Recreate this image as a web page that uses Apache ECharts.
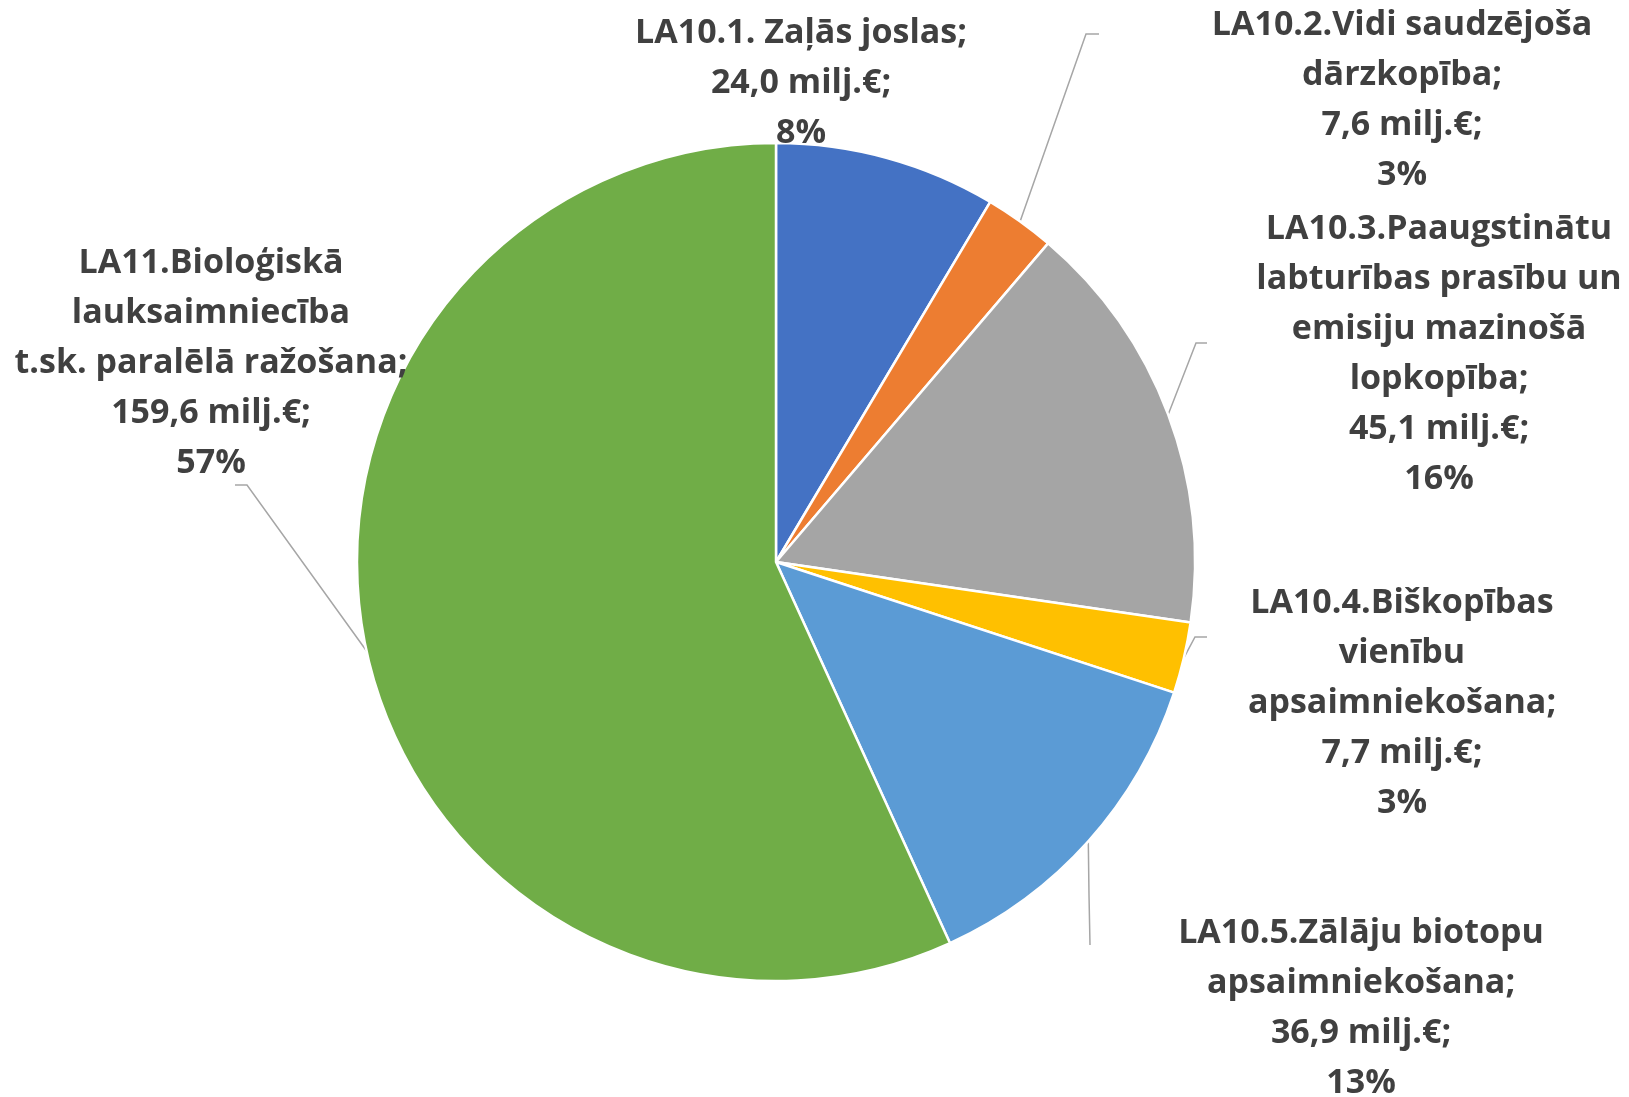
<!DOCTYPE html>
<html>
<head>
<meta charset="utf-8">
<script src="https://cdn.jsdelivr.net/npm/echarts@6/dist/echarts.min.js"></script>
<style>
  html, body { margin: 0; padding: 0; background: #fff; }
  #chart { width: 1629px; height: 1097px; }
</style>
</head>
<body>
<div id="chart"></div>
<script>
// Data
const names = [
    'LA10.1. Zaļās joslas',
    'LA10.2.Vidi saudzējoša\ndārzkopība',
    'LA10.3.Paaugstinātu\nlabturības prasību un\nemisiju mazinošā\nlopkopība',
    'LA10.4.Biškopības\nvienību\napsaimniekošana',
    'LA10.5.Zālāju biotopu\napsaimniekošana',
    'LA11.Bioloģiskā\nlauksaimniecība\nt.sk. paralēlā ražošana'
];
const values = [24.0, 7.6, 45.1, 7.7, 36.9, 159.6];
const valueLabels = ['24,0', '7,6', '45,1', '7,7', '36,9', '159,6'];
const percentLabels = ['8%', '3%', '16%', '3%', '13%', '57%'];
const colors = ['#4472C4', '#ED7D31', '#A5A5A5', '#FFC000', '#5B9BD5', '#70AD47'];

// label placement (text block centre, leader line bend + end)
const labelPlaces = [
    { x: 801, y: 83, line: null },
    { x: 1402, y: 100, line: [[1086, 34], [1099, 34]] },
    { x: 1439, y: 354, line: [[1196, 343], [1207, 343]] },
    { x: 1402, y: 703, line: [[1195, 637], [1207, 637]] },
    { x: 1361, y: 1008, line: [[1089, 895], [1090, 945]] },
    { x: 211, y: 363, line: [[247, 485], [235, 485]] }
];

const chart = echarts.init(document.getElementById('chart'));

const data = names.map(function (name, i) {
    return {
        name: name,
        value: values[i],
        itemStyle: { color: colors[i] },
        labelLine: { show: labelPlaces[i].line !== null }
    };
});

const option = {
    animation: false,
    series: [
        {
            type: 'pie',
            center: [776, 562],
            radius: 419,
            startAngle: 90,
            clockwise: true,
            itemStyle: {
                borderColor: '#fff',
                borderWidth: 2.5
            },
            label: {
                show: true,
                position: 'outside',
                overflow: 'none',
                fontFamily: 'Open Sans',
                fontWeight: 'bold',
                fontSize: 34,
                lineHeight: 50,
                color: '#404040',
                formatter: function (p) {
                    const i = p.dataIndex;
                    return p.name + ';\n' + valueLabels[i] + ' milj.€;\n' + percentLabels[i];
                }
            },
            labelLine: {
                show: true,
                lineStyle: { color: '#A6A6A6', width: 1.5 }
            },
            labelLayout: function (params) {
                const place = labelPlaces[params.dataIndex];
                const out = {
                    x: place.x,
                    y: place.y,
                    align: 'center',
                    verticalAlign: 'middle'
                };
                if (place.line && params.labelLinePoints) {
                    out.labelLinePoints = [params.labelLinePoints[0], place.line[0], place.line[1]];
                }
                return out;
            },
            data: data
        }
    ]
};

chart.setOption(option);
</script>
</body>
</html>
